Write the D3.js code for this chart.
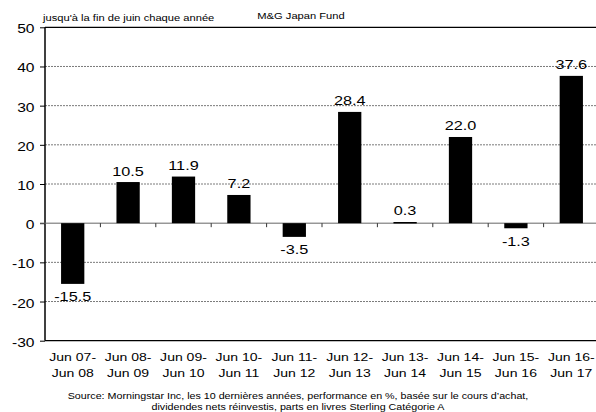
<!DOCTYPE html>
<html><head><meta charset="utf-8">
<script src="https://cdn.jsdelivr.net/npm/d3@7"></script>
<style>body{margin:0;background:#fff}svg{display:block;font-family:"Liberation Sans",Arial,sans-serif}</style>
</head><body><svg id="c" width="596" height="412"></svg>
<script>
const categories = [["Jun 07-","Jun 08"],["Jun 08-","Jun 09"],["Jun 09-","Jun 10"],["Jun 10-","Jun 11"],["Jun 11-","Jun 12"],["Jun 12-","Jun 13"],["Jun 13-","Jun 14"],["Jun 14-","Jun 15"],["Jun 15-","Jun 16"],["Jun 16-","Jun 17"]];
const values = [-15.5, 10.5, 11.9, 7.2, -3.5, 28.4, 0.3, 22.0, -1.3, 37.6];
const yTicks = [-30, -20, -10, 0, 10, 20, 30, 40, 50];
const title = "M&G Japan Fund";
const subtitle = "jusqu'à la fin de juin chaque année";
const source = ["Source: Morningstar Inc, les 10 dernières années, performance en %, basée sur le cours d’achat,", "dividendes nets réinvestis, parts en livres Sterling Catégorie A"];

const SX = 1.2; // horizontal text stretch seen in the reference
const svg = d3.select("#c");
const L = 45, R = 599, T = 27.3, B = 340.7;
const x = d3.scaleBand().domain(d3.range(values.length)).range([L, R]);
const y = d3.scaleLinear().domain([-30, 50]).range([B, T]);

function stretchedText(parent, px, py, str, size, anchor, sx) {
  return parent.append("text")
    .attr("transform", `translate(${px},${py}) scale(${sx || SX},1)`)
    .attr("text-anchor", anchor).attr("font-size", size).attr("fill", "#000")
    .text(str);
}

// gridlines
svg.append("g").selectAll("line").data(yTicks.filter(d => d !== 0 && d !== 50 && d !== -30)).join("line")
  .attr("x1", L).attr("x2", 596).attr("y1", d => y(d)).attr("y2", d => y(d))
  .attr("stroke", "#7a7a7a").attr("stroke-width", 1).attr("stroke-dasharray", "2,1");
// top & bottom lines
[50, -30].forEach(v => svg.append("line").attr("x1", L).attr("x2", 596).attr("y1", y(v)).attr("y2", y(v)).attr("stroke", "#000").attr("stroke-width", 1.2));

// left axis
const ya = svg.append("g").attr("transform", `translate(${L},0)`)
  .call(d3.axisLeft(y).tickValues(yTicks).tickSize(5).tickFormat(""));
ya.select(".domain").remove();
ya.append("line").attr("x1", 0).attr("x2", 0).attr("y1", T).attr("y2", B).attr("stroke", "#000").attr("stroke-width", 1.5);
ya.selectAll(".tick line").attr("stroke", "#000");
const yl = svg.append("g");
yTicks.forEach(v => stretchedText(yl, 34.5, y(v) + 6, String(v), 13, "end"));

// zero line and boundary ticks
svg.append("line").attr("x1", L - 5).attr("x2", 596).attr("y1", y(0)).attr("y2", y(0)).attr("stroke", "#666").attr("stroke-width", 1);
svg.append("g").selectAll("line").data(d3.range(1, values.length)).join("line")
  .attr("x1", d => x(d)).attr("x2", d => x(d)).attr("y1", y(0)).attr("y2", y(0) + 4)
  .attr("stroke", "#333").attr("stroke-width", 1);

// bars
const bw = x.bandwidth() * 0.42;
svg.append("g").selectAll("rect").data(values).join("rect")
  .attr("x", (d, i) => x(i) + x.bandwidth() / 2 - bw / 2)
  .attr("width", bw)
  .attr("y", d => y(Math.max(0, d)))
  .attr("height", d => Math.max(1.5, Math.abs(y(d) - y(0))))
  .attr("fill", "#000");

// value labels
const vl = svg.append("g");
values.forEach((d, i) => stretchedText(vl, x(i) + x.bandwidth() / 2, d >= 0 ? y(d) - 6.5 : y(d) + 17.5, d.toFixed(1), 13, "middle", 1.25));

// x labels
const xg = svg.append("g");
categories.forEach((c, i) => {
  stretchedText(xg, x(i) + x.bandwidth() / 2, 361, c[0], 11.5, "middle", 1.22);
  stretchedText(xg, x(i) + x.bandwidth() / 2, 377, c[1], 11.5, "middle", 1.22);
});

// titles
stretchedText(svg, 43, 20.5, subtitle, 9, "start", 1.24);
stretchedText(svg, 301, 19, title, 9, "middle", 1.24);

// source
source.forEach((s, i) => stretchedText(svg, 298, 399 + i * 11, s, 9, "middle", 1.19));
</script></body></html>
